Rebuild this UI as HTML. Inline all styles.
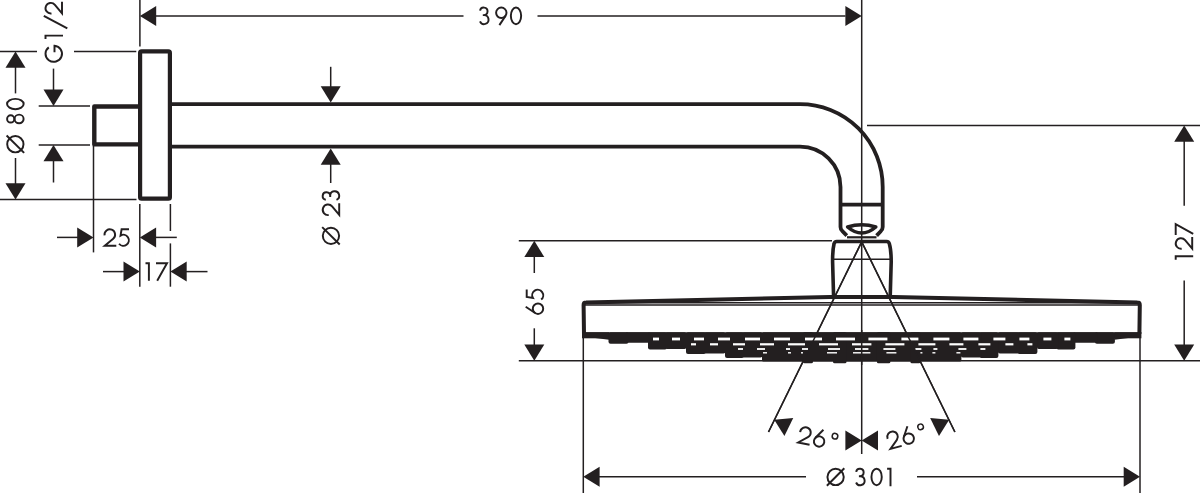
<!DOCTYPE html>
<html><head><meta charset="utf-8"><title>Dimension drawing</title>
<style>
html,body{margin:0;padding:0;background:#fff;}
svg{display:block;}
text{font-family:"Liberation Sans",sans-serif;fill:#231f20;}
</style></head><body>
<svg width="1200" height="493" viewBox="0 0 1200 493">
<rect width="1200" height="493" fill="#fff"/>
<line x1="139.9" y1="0" x2="139.9" y2="46.5" stroke="#231f20" stroke-width="1.5" />
<line x1="861.7" y1="0" x2="861.7" y2="454" stroke="#231f20" stroke-width="1.5" />
<line x1="156" y1="16" x2="463.5" y2="16" stroke="#231f20" stroke-width="1.5" />
<line x1="537.5" y1="16" x2="845.5" y2="16" stroke="#231f20" stroke-width="1.5" />
<polygon points="139.90,16.00 156.20,6.00 156.20,26.00" fill="#231f20"/>
<polygon points="861.70,16.00 845.40,26.00 845.40,6.00" fill="#231f20"/>
<g transform="translate(0 6.6) rotate(0)" fill="none" stroke="#231f20" stroke-width="1.95" stroke-linejoin="miter" stroke-miterlimit="10">
<g transform="translate(479.1 0)"><path d="M0.97,4.1 A3.76,3.76 0 1 1 4.67,8.5 H3.7 M4.67,8.5 H5.0 A4.45,4.5 0 1 1 0.9,14.8"/></g>
<g transform="translate(495.0 0)"><path d="M10.64,9.07 L4.4,18.5"/><circle cx="6.3" cy="6.2" r="5.2"/></g>
<g transform="translate(509.9 0)"><ellipse cx="6.1" cy="9.25" rx="5.15" ry="8.3"/></g>
</g>
<line x1="0" y1="51.5" x2="37" y2="51.5" stroke="#231f20" stroke-width="1.5" />
<line x1="74" y1="51.5" x2="136.3" y2="51.5" stroke="#231f20" stroke-width="1.5" />
<line x1="0" y1="199.6" x2="136.5" y2="199.6" stroke="#231f20" stroke-width="1.5" />
<line x1="38.7" y1="105.9" x2="90" y2="105.9" stroke="#231f20" stroke-width="1.5" />
<line x1="38.7" y1="145" x2="90" y2="145" stroke="#231f20" stroke-width="1.5" />
<polygon points="15.50,51.50 25.50,67.80 5.50,67.80" fill="#231f20"/>
<polygon points="15.50,199.60 5.50,183.30 25.50,183.30" fill="#231f20"/>
<line x1="15.5" y1="67" x2="15.5" y2="93.4" stroke="#231f20" stroke-width="1.5" />
<line x1="15.5" y1="158" x2="15.5" y2="184" stroke="#231f20" stroke-width="1.5" />
<polygon points="53.50,105.90 43.50,89.60 63.50,89.60" fill="#231f20"/>
<polygon points="53.50,145.00 63.50,161.30 43.50,161.30" fill="#231f20"/>
<line x1="53.5" y1="68.6" x2="53.5" y2="90" stroke="#231f20" stroke-width="1.5" />
<line x1="53.5" y1="161" x2="53.5" y2="182.5" stroke="#231f20" stroke-width="1.5" />
<g transform="translate(6.1 153.5) rotate(-90)" fill="none" stroke="#231f20" stroke-width="1.95" stroke-linejoin="miter" stroke-miterlimit="10">
<g transform="translate(0 0)"><circle cx="9.3" cy="9.25" r="8.15"/><path d="M0.6,18.0 L18.0,0.5"/></g>
<g transform="translate(29.4 0)"><circle cx="5.2" cy="4.6" r="3.6"/><ellipse cx="5.2" cy="13.0" rx="4.3" ry="4.5"/></g>
<g transform="translate(43.4 0)"><ellipse cx="6.1" cy="9.25" rx="5.15" ry="8.3"/></g>
</g>
<g transform="translate(44.5 62.7) rotate(-90)" fill="none" stroke="#231f20" stroke-width="1.95" stroke-linejoin="miter" stroke-miterlimit="10">
<g transform="translate(0 0)"><path d="M15.29,4.29 A8,8.25 0 1 0 16.87,10.0 H10.5"/></g>
<g transform="translate(23.5 0)"><path d="M0.2,1.0 H3.6 V18.5"/></g>
<g transform="translate(34.4 0)"><path d="M0,22.8 L12.4,-0.7"/></g>
<g transform="translate(48.2 0)"><path d="M1.05,7.0 A5.3,5.3 0 1 1 9.7,10.4 L1.2,17.5 H12.8"/></g>
</g>
<line x1="93.5" y1="146" x2="93.5" y2="252.4" stroke="#231f20" stroke-width="1.5" />
<line x1="139.8" y1="204" x2="139.8" y2="286.7" stroke="#231f20" stroke-width="1.5" />
<line x1="170.4" y1="204" x2="170.4" y2="231" stroke="#231f20" stroke-width="1.5" />
<line x1="170.4" y1="243.4" x2="170.4" y2="286.7" stroke="#231f20" stroke-width="1.5" />
<line x1="57" y1="237.4" x2="78" y2="237.4" stroke="#231f20" stroke-width="1.5" />
<line x1="155" y1="237.4" x2="176.8" y2="237.4" stroke="#231f20" stroke-width="1.5" />
<polygon points="93.50,237.40 77.20,247.40 77.20,227.40" fill="#231f20"/>
<polygon points="139.80,237.40 156.10,227.40 156.10,247.40" fill="#231f20"/>
<g transform="translate(0 228.3) rotate(0)" fill="none" stroke="#231f20" stroke-width="1.95" stroke-linejoin="miter" stroke-miterlimit="10">
<g transform="translate(103.5 0)"><path d="M1.05,7.0 A5.3,5.3 0 1 1 9.7,10.4 L1.2,17.5 H12.8"/></g>
<g transform="translate(118.4 0)"><path d="M10.6,1.0 H3.2 L2.15,7.24 A5.5,5.5 0 1 1 0.63,15.46"/></g>
</g>
<line x1="103" y1="271.6" x2="124" y2="271.6" stroke="#231f20" stroke-width="1.5" />
<line x1="186" y1="271.6" x2="207.5" y2="271.6" stroke="#231f20" stroke-width="1.5" />
<polygon points="139.80,271.60 123.50,281.60 123.50,261.60" fill="#231f20"/>
<polygon points="170.40,271.60 186.70,261.60 186.70,281.60" fill="#231f20"/>
<g transform="translate(0 262.2) rotate(0)" fill="none" stroke="#231f20" stroke-width="1.95" stroke-linejoin="miter" stroke-miterlimit="10">
<g transform="translate(145.3 0)"><path d="M0.2,1.0 H3.6 V18.5"/></g>
<g transform="translate(156.0 0)"><path d="M0,1.0 H11.0 L1.2,18.5"/></g>
</g>
<polygon points="330.70,102.50 320.70,86.20 340.70,86.20" fill="#231f20"/>
<line x1="330.7" y1="66.8" x2="330.7" y2="87" stroke="#231f20" stroke-width="1.5" />
<polygon points="330.70,148.40 340.70,164.70 320.70,164.70" fill="#231f20"/>
<line x1="330.7" y1="164" x2="330.7" y2="183" stroke="#231f20" stroke-width="1.5" />
<g transform="translate(321.7 245.15) rotate(-90)" fill="none" stroke="#231f20" stroke-width="1.95" stroke-linejoin="miter" stroke-miterlimit="10">
<g transform="translate(0 0)"><circle cx="9.3" cy="9.25" r="8.15"/><path d="M0.6,18.0 L18.0,0.5"/></g>
<g transform="translate(29.05 0)"><path d="M1.05,7.0 A5.3,5.3 0 1 1 9.7,10.4 L1.2,17.5 H12.8"/></g>
<g transform="translate(44.45 0)"><path d="M0.97,4.1 A3.76,3.76 0 1 1 4.67,8.5 H3.7 M4.67,8.5 H5.0 A4.45,4.5 0 1 1 0.9,14.8"/></g>
</g>
<line x1="518.8" y1="240.8" x2="832" y2="240.8" stroke="#231f20" stroke-width="1.5" />
<line x1="518.8" y1="360.7" x2="1200" y2="360.7" stroke="#231f20" stroke-width="1.5" />
<polygon points="534.30,240.80 544.30,257.10 524.30,257.10" fill="#231f20"/>
<polygon points="534.30,360.70 524.30,344.40 544.30,344.40" fill="#231f20"/>
<line x1="534.3" y1="256" x2="534.3" y2="273" stroke="#231f20" stroke-width="1.5" />
<line x1="534.3" y1="328.3" x2="534.3" y2="345" stroke="#231f20" stroke-width="1.5" />
<g transform="translate(525.7 315) rotate(-90)" fill="none" stroke="#231f20" stroke-width="1.95" stroke-linejoin="miter" stroke-miterlimit="10">
<g transform="translate(0 0)"><path d="M8.2,0 L1.96,9.43"/><circle cx="6.3" cy="12.3" r="5.2"/></g>
<g transform="translate(14.8 0)"><path d="M10.6,1.0 H3.2 L2.15,7.24 A5.5,5.5 0 1 1 0.63,15.46"/></g>
</g>
<line x1="867" y1="125.4" x2="1200" y2="125.4" stroke="#231f20" stroke-width="1.5" />
<polygon points="1184.20,125.40 1194.20,141.70 1174.20,141.70" fill="#231f20"/>
<polygon points="1184.20,360.70 1174.20,344.40 1194.20,344.40" fill="#231f20"/>
<line x1="1184.2" y1="141" x2="1184.2" y2="205.7" stroke="#231f20" stroke-width="1.5" />
<line x1="1184.2" y1="280.5" x2="1184.2" y2="345" stroke="#231f20" stroke-width="1.5" />
<g transform="translate(1174.7 259.9) rotate(-90)" fill="none" stroke="#231f20" stroke-width="1.95" stroke-linejoin="miter" stroke-miterlimit="10">
<g transform="translate(0 0)"><path d="M0.2,1.0 H3.6 V18.5"/></g>
<g transform="translate(10.1 0)"><path d="M1.05,7.0 A5.3,5.3 0 1 1 9.7,10.4 L1.2,17.5 H12.8"/></g>
<g transform="translate(24.8 0)"><path d="M0,1.0 H11.0 L1.2,18.5"/></g>
</g>
<line x1="583.3" y1="336" x2="583.3" y2="493" stroke="#231f20" stroke-width="1.5" />
<line x1="1140" y1="336" x2="1140" y2="493" stroke="#231f20" stroke-width="1.5" />
<line x1="599" y1="476.8" x2="806" y2="476.8" stroke="#231f20" stroke-width="1.5" />
<line x1="917" y1="476.8" x2="1124" y2="476.8" stroke="#231f20" stroke-width="1.5" />
<polygon points="583.30,476.80 599.60,466.80 599.60,486.80" fill="#231f20"/>
<polygon points="1140.00,476.80 1123.70,486.80 1123.70,466.80" fill="#231f20"/>
<g transform="translate(0 467.7) rotate(0)" fill="none" stroke="#231f20" stroke-width="1.95" stroke-linejoin="miter" stroke-miterlimit="10">
<g transform="translate(826.3 0)"><circle cx="9.3" cy="9.25" r="8.15"/><path d="M0.6,18.0 L18.0,0.5"/></g>
<g transform="translate(855.2 0)"><path d="M0.97,4.1 A3.76,3.76 0 1 1 4.67,8.5 H3.7 M4.67,8.5 H5.0 A4.45,4.5 0 1 1 0.9,14.8"/></g>
<g transform="translate(870.5 0)"><ellipse cx="6.1" cy="9.25" rx="5.15" ry="8.3"/></g>
<g transform="translate(886.9 0)"><path d="M0.2,1.0 H3.6 V18.5"/></g>
</g>
<line x1="861.7" y1="241.8" x2="768.5" y2="432" stroke="#231f20" stroke-width="1.5" />
<line x1="861.7" y1="241.8" x2="954.9" y2="432" stroke="#231f20" stroke-width="1.5" />
<polygon points="774.20,419.80 793.24,418.02 784.42,435.97" fill="#231f20"/>
<polygon points="949.20,419.80 938.98,435.97 930.16,418.02" fill="#231f20"/>
<polygon points="861.70,440.60 845.40,450.60 845.40,430.60" fill="#231f20"/>
<polygon points="861.70,440.60 878.00,430.60 878.00,450.60" fill="#231f20"/>
<g transform="translate(800.5 425.1) rotate(11.5)" fill="none" stroke="#231f20" stroke-width="1.95" stroke-linejoin="miter" stroke-miterlimit="10">
<g transform="translate(0 0)"><path d="M1.05,7.0 A5.3,5.3 0 1 1 9.7,10.4 L1.2,17.5 H12.8"/></g>
<g transform="translate(15.2 0)"><path d="M8.2,0 L1.96,9.43"/><circle cx="6.3" cy="12.3" r="5.2"/></g>
<g transform="translate(32.8 0)"><circle cx="3.2" cy="4.0" r="2.8" stroke-width="1.5"/></g>
</g>
<g transform="translate(884.8 432.3) rotate(-15)" fill="none" stroke="#231f20" stroke-width="1.95" stroke-linejoin="miter" stroke-miterlimit="10">
<g transform="translate(0 0)"><path d="M1.05,7.0 A5.3,5.3 0 1 1 9.7,10.4 L1.2,17.5 H12.8"/></g>
<g transform="translate(15.2 0)"><path d="M8.2,0 L1.96,9.43"/><circle cx="6.3" cy="12.3" r="5.2"/></g>
<g transform="translate(32.8 0)"><circle cx="3.2" cy="4.0" r="2.8" stroke-width="1.5"/></g>
</g>
<rect x="140.1" y="51.4" width="29.8" height="147.3" rx="1.5" fill="none" stroke="#231f20" stroke-width="4.2"/>
<path d="M140,106.5 H94.3 V144.4 H140" fill="none" stroke="#231f20" stroke-width="4.4" stroke-linejoin="round" />
<path d="M171,104.2 H800 A82.7,82.7 0 0 1 882.7,187 V227 Q882.7,229.5 880.8,231.2 L876.6,235.6" fill="none" stroke="#231f20" stroke-width="3.8" stroke-linejoin="round" />
<path d="M171,146.6 H800 A40.5,40.5 0 0 1 840.5,187 V227 Q840.5,229.5 842.4,231.2 L846.8,235.6" fill="none" stroke="#231f20" stroke-width="3.8" stroke-linejoin="round" />
<line x1="840.5" y1="204.7" x2="882.7" y2="204.7" stroke="#231f20" stroke-width="3.8" />
<path d="M847.6,227 Q861.7,222.4 875.8,227 Q861.7,239 847.6,227 Z" fill="none" stroke="#231f20" stroke-width="3.5" stroke-linejoin="round" />
<line x1="847" y1="237.3" x2="876.5" y2="237.3" stroke="#231f20" stroke-width="2.2" />
<path d="M833.6,297 L832.6,262 Q832.5,250 834,244 Q834.5,241.5 836.8,241.5 H886.6 Q888.9,241.5 889.4,244 Q891.2,250 891.2,262 L890.2,297" fill="none" stroke="#231f20" stroke-width="3.6" stroke-linejoin="round" />
<line x1="833" y1="259.3" x2="891" y2="259.3" stroke="#231f20" stroke-width="1.6" />
<path d="M584,334 L583.6,305 Q583.6,302.6 586,302.6 L830,297 H893.4 L1137.4,302.6 Q1139.8,302.6 1139.8,305 L1139.4,334" fill="none" stroke="#231f20" stroke-width="4" stroke-linejoin="round" />
<line x1="585" y1="302.7" x2="1138" y2="302.7" stroke="#231f20" stroke-width="1.6" />
<line x1="585" y1="305" x2="1138" y2="305" stroke="#231f20" stroke-width="1.6" />
<polygon points="582,332.3 583.4,336.6 609,339.8 609,332.3" fill="#231f20"/>
<polygon points="1141.4,332.3 1140.0,336.6 1114.4,339.8 1114.4,332.3" fill="#231f20"/>
<rect x="582" y="332.3" width="559.4000000000001" height="6" fill="#231f20"/>
<rect x="608.5" y="332.3" width="20.0" height="11.5" rx="2" fill="#231f20"/>
<rect x="1094.9" y="332.3" width="20.0" height="11.5" rx="2" fill="#231f20"/>
<rect x="626.0" y="332.3" width="24.0" height="10.4" rx="1" fill="#231f20"/>
<rect x="1073.4" y="332.3" width="24.0" height="10.4" rx="1" fill="#231f20"/>
<rect x="648.0" y="332.3" width="19.0" height="17.3" rx="2" fill="#231f20"/>
<rect x="1056.4" y="332.3" width="19.0" height="17.3" rx="2" fill="#231f20"/>
<rect x="665.0" y="332.3" width="21.5" height="16.7" rx="2" fill="#231f20"/>
<rect x="1036.9" y="332.3" width="21.5" height="16.7" rx="2" fill="#231f20"/>
<rect x="686.0" y="332.3" width="20.0" height="21.6" rx="2" fill="#231f20"/>
<rect x="1017.4" y="332.3" width="20.0" height="21.6" rx="2" fill="#231f20"/>
<rect x="704.0" y="332.3" width="21.5" height="21.1" rx="2" fill="#231f20"/>
<rect x="997.9" y="332.3" width="21.5" height="21.1" rx="2" fill="#231f20"/>
<rect x="725.0" y="332.3" width="19.0" height="25.6" rx="2" fill="#231f20"/>
<rect x="979.4" y="332.3" width="19.0" height="25.6" rx="2" fill="#231f20"/>
<rect x="742.0" y="332.3" width="20.5" height="25.1" rx="2" fill="#231f20"/>
<rect x="960.9" y="332.3" width="20.5" height="25.1" rx="2" fill="#231f20"/>
<rect x="762.0" y="332.3" width="100.7" height="29.1" rx="1.5" fill="#231f20"/>
<rect x="860.7" y="332.3" width="100.7" height="29.1" rx="1.5" fill="#231f20"/>
<rect x="803.0" y="332.3" width="10.0" height="30.9" rx="1.5" fill="#231f20"/>
<rect x="910.4" y="332.3" width="10.0" height="30.9" rx="1.5" fill="#231f20"/>
<rect x="833.0" y="332.3" width="13.5" height="30.9" rx="1.5" fill="#231f20"/>
<rect x="876.9" y="332.3" width="13.5" height="30.9" rx="1.5" fill="#231f20"/>
<rect x="653" y="337.6" width="6.0" height="2.8" fill="#fff"/>
<rect x="1064.4" y="337.6" width="6.0" height="2.8" fill="#fff"/>
<rect x="672" y="337.6" width="8.0" height="2.8" fill="#fff"/>
<rect x="1043.4" y="337.6" width="8.0" height="2.8" fill="#fff"/>
<rect x="694" y="337.6" width="10.0" height="2.8" fill="#fff"/>
<rect x="1019.4" y="337.6" width="10.0" height="2.8" fill="#fff"/>
<rect x="718" y="337.6" width="12.0" height="2.8" fill="#fff"/>
<rect x="993.4" y="337.6" width="12.0" height="2.8" fill="#fff"/>
<rect x="745" y="337.6" width="15.0" height="2.8" fill="#fff"/>
<rect x="963.4" y="337.6" width="15.0" height="2.8" fill="#fff"/>
<rect x="774" y="337.6" width="16.0" height="2.8" fill="#fff"/>
<rect x="933.4" y="337.6" width="16.0" height="2.8" fill="#fff"/>
<rect x="805" y="337.6" width="17.0" height="2.8" fill="#fff"/>
<rect x="901.4" y="337.6" width="17.0" height="2.8" fill="#fff"/>
<rect x="836" y="337.6" width="19.0" height="2.8" fill="#fff"/>
<rect x="868.4" y="337.6" width="19.0" height="2.8" fill="#fff"/>
<rect x="691" y="343.2" width="5.0" height="2.2" fill="#fff"/>
<rect x="1027.4" y="343.2" width="5.0" height="2.2" fill="#fff"/>
<rect x="710" y="343.2" width="8.0" height="2.2" fill="#fff"/>
<rect x="1005.4" y="343.2" width="8.0" height="2.2" fill="#fff"/>
<rect x="733" y="343.2" width="12.0" height="2.2" fill="#fff"/>
<rect x="978.4" y="343.2" width="12.0" height="2.2" fill="#fff"/>
<rect x="760" y="343.2" width="14.0" height="2.2" fill="#fff"/>
<rect x="949.4" y="343.2" width="14.0" height="2.2" fill="#fff"/>
<rect x="788" y="343.2" width="17.0" height="2.2" fill="#fff"/>
<rect x="918.4" y="343.2" width="17.0" height="2.2" fill="#fff"/>
<rect x="819" y="343.2" width="19.0" height="2.2" fill="#fff"/>
<rect x="885.4" y="343.2" width="19.0" height="2.2" fill="#fff"/>
<rect x="852" y="343.2" width="9.7" height="2.2" fill="#fff"/>
<rect x="861.7" y="343.2" width="9.7" height="2.2" fill="#fff"/>
<rect x="738" y="348.1" width="5.0" height="1.8" fill="#fff"/>
<rect x="980.4" y="348.1" width="5.0" height="1.8" fill="#fff"/>
<rect x="757" y="348.1" width="8.0" height="1.8" fill="#fff"/>
<rect x="958.4" y="348.1" width="8.0" height="1.8" fill="#fff"/>
<rect x="786" y="348.1" width="4.0" height="1.8" fill="#fff"/>
<rect x="933.4" y="348.1" width="4.0" height="1.8" fill="#fff"/>
<rect x="802" y="348.1" width="6.0" height="1.8" fill="#fff"/>
<rect x="915.4" y="348.1" width="6.0" height="1.8" fill="#fff"/>
<rect x="828" y="348.1" width="12.0" height="1.8" fill="#fff"/>
<rect x="883.4" y="348.1" width="12.0" height="1.8" fill="#fff"/>
<rect x="855" y="348.1" width="6.7" height="1.8" fill="#fff"/>
<rect x="861.7" y="348.1" width="6.7" height="1.8" fill="#fff"/>
<rect x="763" y="352.1" width="4.0" height="1.4" fill="#fff"/>
<rect x="956.4" y="352.1" width="4.0" height="1.4" fill="#fff"/>
<rect x="788" y="352.1" width="3.0" height="1.4" fill="#fff"/>
<rect x="932.4" y="352.1" width="3.0" height="1.4" fill="#fff"/>
<rect x="801" y="352.1" width="2.0" height="1.4" fill="#fff"/>
<rect x="920.4" y="352.1" width="2.0" height="1.4" fill="#fff"/>
<rect x="827" y="352.1" width="10.0" height="1.4" fill="#fff"/>
<rect x="886.4" y="352.1" width="10.0" height="1.4" fill="#fff"/>
<rect x="853" y="352.1" width="8.7" height="1.4" fill="#fff"/>
<rect x="861.7" y="352.1" width="8.7" height="1.4" fill="#fff"/>
<line x1="861.7" y1="330" x2="861.7" y2="365" stroke="#231f20" stroke-width="1.5" />
<line x1="861.7" y1="241.8" x2="768.5" y2="432" stroke="#231f20" stroke-width="1.5" />
<line x1="861.7" y1="241.8" x2="954.9" y2="432" stroke="#231f20" stroke-width="1.5" />
</svg>
</body></html>
